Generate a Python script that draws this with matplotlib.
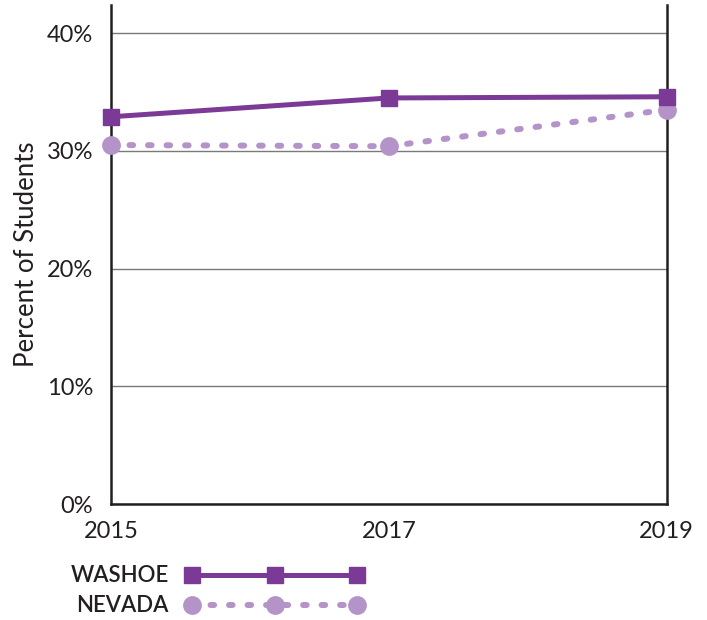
import matplotlib.pyplot as plt
from matplotlib.lines import Line2D
from matplotlib.legend_handler import HandlerLine2D

years = [2015, 2017, 2019]
washoe = [32.9, 34.5, 34.6]
nevada = [30.5, 30.4, 33.5]
yticks = [0, 10, 20, 30, 40]
ytick_labels = ['0%', '10%', '20%', '30%', '40%']

washoe_color = '#7b3a96'
nevada_color = '#b393c8'
ink = '#231f20'

plt.rcParams['font.family'] = ['Lato', 'DejaVu Sans']

fig = plt.figure(figsize=(7.07, 6.2), dpi=100)
ax = fig.add_axes([0.157, 0.187, 0.786, 0.805])

ax.plot(years, washoe, color=washoe_color, lw=3.6, marker='s', ms=11.5,
        label='WASHOE', clip_on=False, zorder=4)
ax.plot(years, nevada, color=nevada_color, lw=4.3, linestyle=(0, (0.6, 2.5)),
        dash_capstyle='round', marker='o', ms=12.5, label='NEVADA',
        clip_on=False, zorder=3)

ax.set_xlim(2015, 2019)
ax.set_ylim(0, 42.4)
ax.set_xticks(years)
ax.set_xticklabels([str(y) for y in years], fontsize=17, color=ink)
ax.set_yticks(yticks)
ax.set_yticklabels(ytick_labels, fontsize=17, color=ink)
ax.tick_params(axis='y', length=0, pad=13)
ax.tick_params(axis='x', length=0, pad=12)
ax.set_ylabel('Percent of Students', fontsize=18.5, color=ink, labelpad=5)

ax.grid(axis='y', color='#7a7a7a', lw=1)
ax.set_axisbelow(True)
ax.spines['top'].set_visible(False)
for s in ['left', 'right', 'bottom']:
    ax.spines[s].set_color(ink)
    ax.spines[s].set_linewidth(1.8)

leg = ax.legend(loc='upper left', bbox_to_anchor=(0.1, 0.088), bbox_transform=fig.transFigure,
                markerfirst=False, numpoints=3, handlelength=8.5, frameon=False,
                prop={'size': 16, 'weight': 'semibold'}, labelspacing=0.4, handletextpad=0.5,
                borderpad=0, borderaxespad=0,
                handler_map={Line2D: HandlerLine2D(marker_pad=0.55)})
for t in leg.get_texts():
    t.set_color(ink)

fig.savefig('out.png', dpi=100)
